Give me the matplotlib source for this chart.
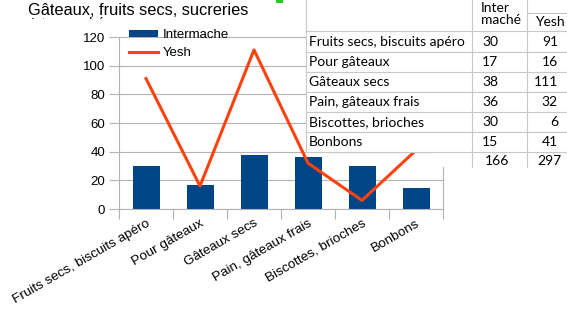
import matplotlib.pyplot as plt
from matplotlib.patches import Rectangle
from matplotlib.lines import Line2D

categories = ['Fruits secs, biscuits apéro', 'Pour gâteaux', 'Gâteaux secs',
              'Pain, gâteaux frais', 'Biscottes, brioches', 'Bonbons']
intermache = [30, 17, 38, 36, 30, 15]
yesh = [91, 16, 111, 32, 6, 41]
totals = [166, 297]

W, H = 567, 316


def fx(px):
    return px / W


def fy(py):
    return 1 - py / H


fig = plt.figure(figsize=(W / 100, H / 100), dpi=100)
fig.patch.set_facecolor('white')

# chart
ax = fig.add_axes([fx(119), fy(209), fx(443) - fx(119), fy(37) - fy(209)])
x = list(range(len(categories)))
bars = ax.bar(x, intermache, width=0.5, color='#004586', label='Intermache', zorder=2)
line, = ax.plot(x, yesh, color='#ff420e', lw=2.2, label='Yesh', zorder=3)
ax.set_xlim(-0.5, len(categories) - 0.5)
ax.set_ylim(0, 120)
ax.set_yticks(range(0, 121, 20))
ax.set_xticks([i - 0.5 for i in range(len(categories) + 1)])
ax.set_xticklabels([])
ax.set_xticks(x, minor=True)
ax.set_xticklabels(categories, minor=True, rotation=30, ha='right',
                   rotation_mode='anchor', fontsize=9.7, family='Liberation Sans')
ax.tick_params(axis='x', which='minor', length=0, pad=6)
ax.tick_params(axis='x', which='major', length=7, color='#b3b3b3', width=0.8)
ax.tick_params(axis='y', length=7, color='#b3b3b3', width=0.8, labelsize=9.5, pad=3)
for lab in ax.get_yticklabels():
    lab.set_family('Liberation Sans')
ax.grid(axis='y', color='#b3b3b3', lw=0.8, zorder=0)
ax.set_axisbelow(True)
for side in ['left', 'bottom', 'right']:
    ax.spines[side].set_color('#b3b3b3')
    ax.spines[side].set_linewidth(0.8)
ax.spines['top'].set_visible(False)
ax.legend([bars, line], ['Intermache', 'Yesh'], loc='upper left',
          bbox_to_anchor=(fx(124), fy(24)),
          bbox_transform=fig.transFigure, frameon=False,
          prop={'family': 'Liberation Sans', 'size': 9.5},
          handlelength=2.2, handleheight=0.45, handletextpad=0.3,
          labelspacing=0.45, borderaxespad=0)

# title (second line clipped by plot area)
fig.text(fx(28), fy(15), 'Gâteaux, fruits secs, sucreries', fontsize=11.8,
         family='Liberation Sans', va='baseline', ha='left')
t2 = fig.text(fx(31), fy(28), 'Intermarché', fontsize=10,
              family='Liberation Sans', va='baseline', ha='left')
clip = Rectangle((0, fy(19)), 1, 1, transform=fig.transFigure)
t2.set_clip_path(clip)

# spreadsheet table on top of the chart
fig.patches.append(Rectangle((fx(306), fy(152)), fx(567) - fx(306), fy(0) - fy(152),
                             transform=fig.transFigure, facecolor='white',
                             edgecolor='none', zorder=5))
fig.patches.append(Rectangle((fx(433), fy(167)), fx(567) - fx(433), fy(152) - fy(167),
                             transform=fig.transFigure, facecolor='white',
                             edgecolor='none', zorder=5))
fig.patches.append(Rectangle((fx(276), fy(3)), fx(7), fy(0) - fy(3),
                             transform=fig.transFigure, facecolor='#22cc22',
                             edgecolor='none', zorder=5))

gc = '#c8c8c8'
rows_y = [31, 52, 72, 92, 112, 132, 152]
for ry in rows_y:
    fig.add_artist(Line2D([fx(306), fx(567)], [fy(ry), fy(ry)], color=gc, lw=0.8, zorder=6))
fig.add_artist(Line2D([fx(527), fx(567)], [fy(13), fy(13)], color=gc, lw=0.8, zorder=6))
fig.add_artist(Line2D([fx(306), fx(306)], [fy(0), fy(152)], color=gc, lw=0.8, zorder=6))
for cx in [472, 527]:
    fig.add_artist(Line2D([fx(cx), fx(cx)], [fy(0), fy(167)], color=gc, lw=0.8, zorder=6))

tf = {'family': 'Lato', 'fontsize': 10, 'zorder': 7, 'va': 'center'}
fig.text(fx(481), fy(8), 'Inter', ha='left', **tf)
fig.text(fx(481), fy(20), 'maché', ha='left', **tf)
fig.text(fx(535), fy(22), 'Yesh', ha='left', **tf)
for i, name in enumerate(categories):
    cy = (rows_y[i] + rows_y[i + 1]) / 2
    fig.text(fx(309), fy(cy), name, ha='left', **tf)
    fig.text(fx(482), fy(cy), str(intermache[i]), ha='left', **tf)
    fig.text(fx(558), fy(cy), str(yesh[i]), ha='right', **tf)
fig.text(fx(485), fy(161), str(totals[0]), ha='left', **tf)
fig.text(fx(561), fy(161), str(totals[1]), ha='right', **tf)

fig.savefig('out.png', dpi=100, facecolor='white')
